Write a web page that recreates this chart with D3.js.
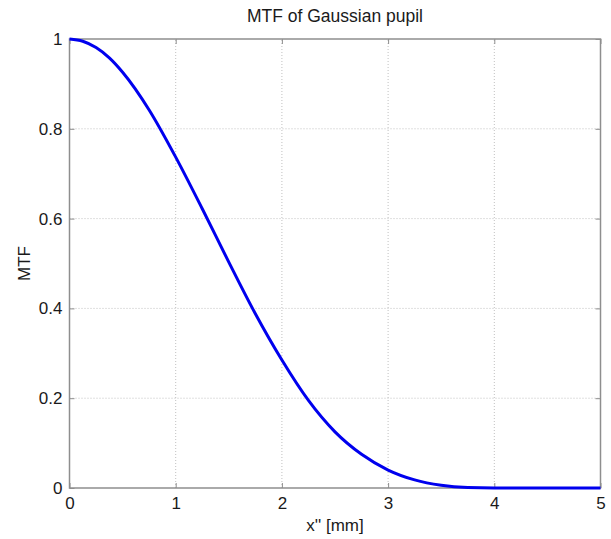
<!DOCTYPE html>
<html><head><meta charset="utf-8">
<script src="https://cdn.jsdelivr.net/npm/d3@7"></script>
<style>
body{margin:0;background:#fff;}
text{font-family:"Liberation Sans",Arial,Helvetica,sans-serif;fill:#1a1a1a;}
</style></head>
<body>
<svg id="chart" width="611" height="539"></svg>
<script>
const xValues = [0,0.125,0.25,0.375,0.5,0.75,1,1.25,1.5,1.75,2,2.25,2.5,2.75,3,3.25,3.5,3.75,4,4.25,4.5,4.75,5];
const mtfValues = [1,0.995,0.981,0.958,0.926,0.842,0.737,0.622,0.503,0.388,0.285,0.195,0.125,0.075,0.04,0.018,0.006,0.001,0,0,0,0,0];
const xTicks = [0,1,2,3,4,5];
const yTicks = [0,0.2,0.4,0.6,0.8,1];
const yTickLabels = ["0","0.2","0.4","0.6","0.8","1"];
const title = "MTF of Gaussian pupil";
const xLabel = "x'' [mm]";
const yLabel = "MTF";

const m = {left:69.5, right:10.5, top:39, bottom:51};
const W = 611, H = 539;
const svg = d3.select("#chart");
const x = d3.scaleLinear().domain([0,5]).range([m.left, W-m.right]);
const y = d3.scaleLinear().domain([0,1]).range([H-m.bottom, m.top]);

// grid
const g = svg.append("g");
g.selectAll(".gx").data(xTicks.slice(1,-1)).join("line")
  .attr("x1",d=>x(d)).attr("x2",d=>x(d)).attr("y1",y(0)).attr("y2",y(1))
  .attr("stroke","#c0c0c0").attr("stroke-width",1).attr("stroke-dasharray","1,2");
g.selectAll(".gy").data(yTicks.slice(1,-1)).join("line")
  .attr("y1",d=>y(d)).attr("y2",d=>y(d)).attr("x1",x(0)).attr("x2",x(5))
  .attr("stroke","#c0c0c0").attr("stroke-width",1).attr("stroke-dasharray","1,2");

// box
svg.append("rect").attr("x",x(0)).attr("y",y(1)).attr("width",x(5)-x(0)).attr("height",y(0)-y(1))
  .attr("fill","none").attr("stroke","#8e8e8e").attr("stroke-width",1.5);

// axes
const xAxis = d3.axisBottom(x).tickValues(xTicks).tickSize(-5).tickPadding(9).tickFormat(d3.format("d"));
const ax = svg.append("g").attr("transform",`translate(0,${y(0)})`).call(xAxis);
ax.select(".domain").remove();
ax.selectAll(".tick line").attr("stroke","#8e8e8e");
ax.selectAll("text").attr("font-size","17px").attr("fill","#1a1a1a");
const axTop = svg.append("g").attr("transform",`translate(0,${y(1)})`).call(d3.axisTop(x).tickValues(xTicks).tickSize(-5).tickFormat(""));
axTop.select(".domain").remove(); axTop.selectAll(".tick line").attr("stroke","#8e8e8e");

const yAxis = d3.axisLeft(y).tickValues(yTicks).tickSize(-5).tickPadding(7).tickFormat((d,i)=>yTickLabels[i]);
const ay = svg.append("g").attr("transform",`translate(${x(0)},0)`).call(yAxis);
ay.select(".domain").remove();
ay.selectAll(".tick line").attr("stroke","#8e8e8e");
ay.selectAll("text").attr("font-size","17px").attr("fill","#1a1a1a");
const ayR = svg.append("g").attr("transform",`translate(${x(5)},0)`).call(d3.axisRight(y).tickValues(yTicks).tickSize(-5).tickFormat(""));
ayR.select(".domain").remove(); ayR.selectAll(".tick line").attr("stroke","#8e8e8e");

// line
const data = xValues.map((v,i)=>({x:v,y:mtfValues[i]}));
svg.append("path").datum(data)
  .attr("d", d3.line().x(d=>x(d.x)).y(d=>y(d.y)).curve(d3.curveMonotoneX))
  .attr("fill","none").attr("stroke","#0000ee").attr("stroke-width",3);

// labels
svg.append("text").attr("x",(x(0)+x(5))/2).attr("y",22).attr("text-anchor","middle")
  .attr("font-size","17.5px").text(title);
svg.append("text").attr("x",(x(0)+x(5))/2).attr("y",531).attr("text-anchor","middle")
  .attr("font-size","17px").text(xLabel);
svg.append("text").attr("transform",`translate(30,${(y(0)+y(1))/2}) rotate(-90)`).attr("text-anchor","middle")
  .attr("font-size","17px").text(yLabel);
</script>
</body></html>
